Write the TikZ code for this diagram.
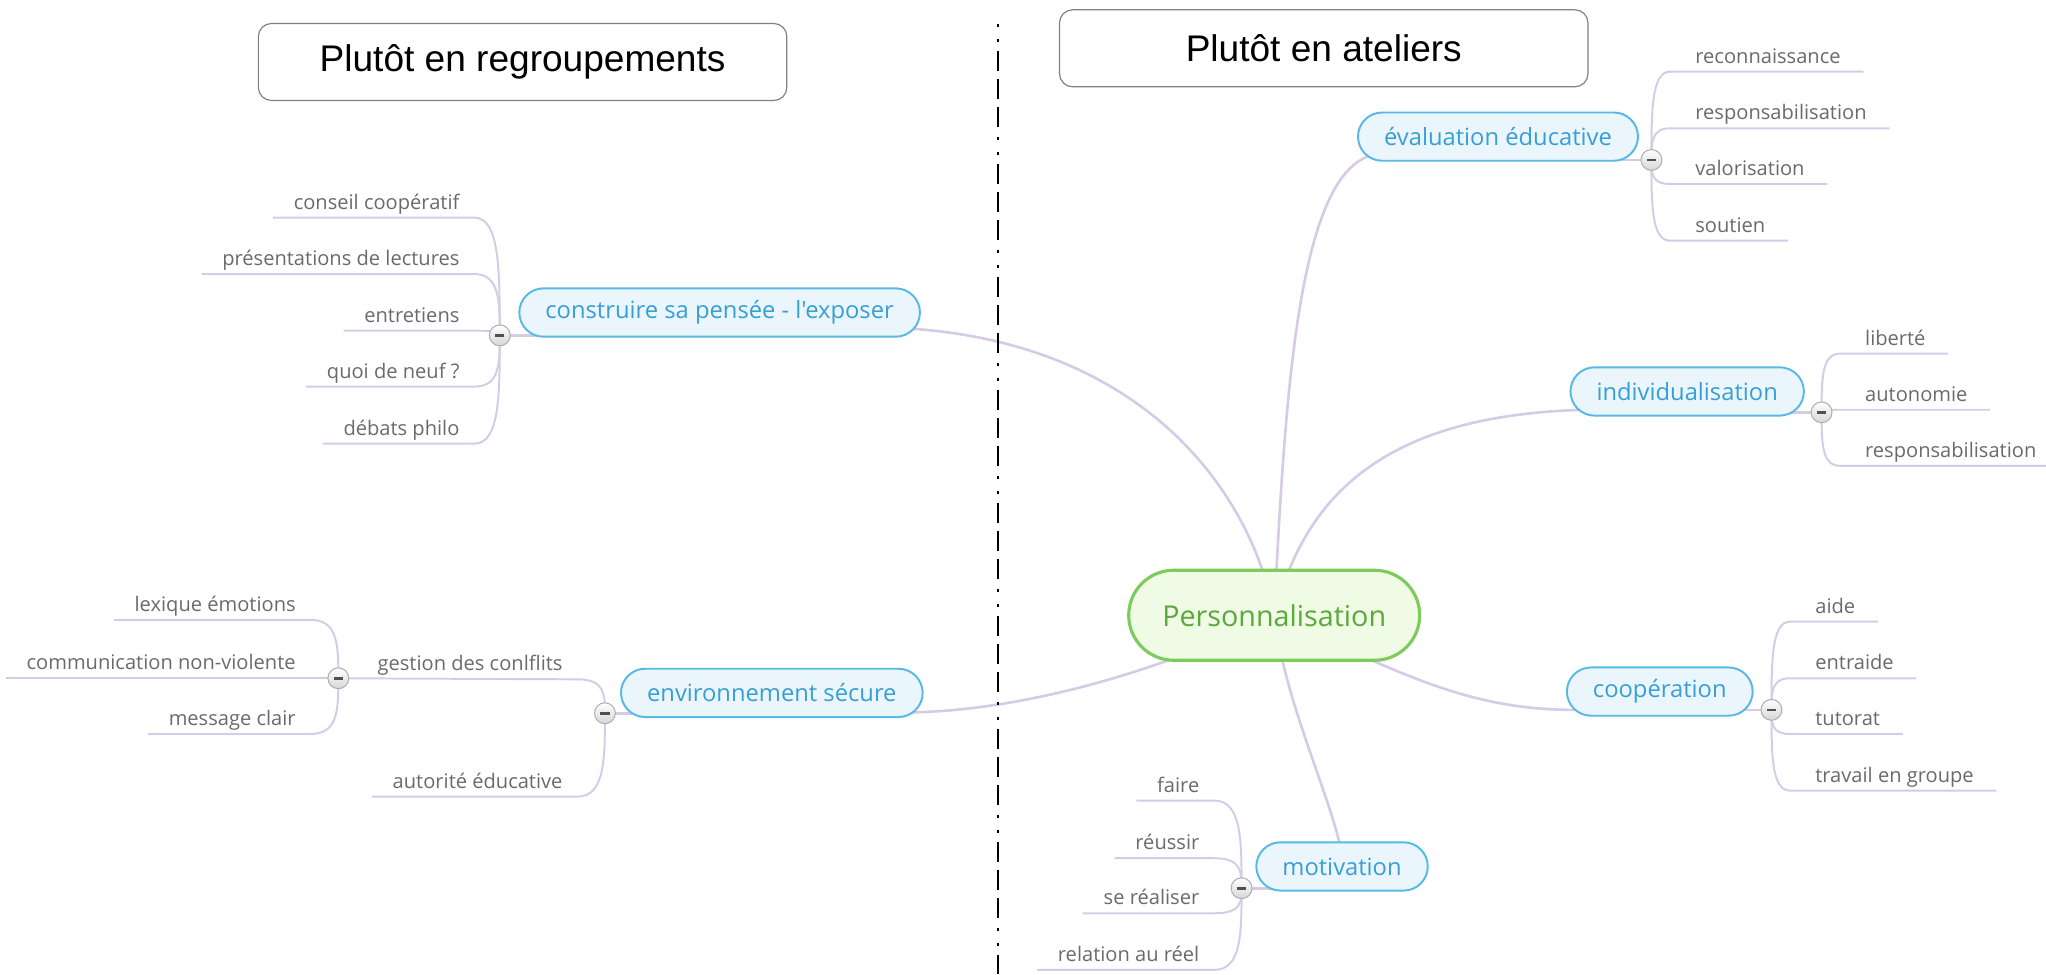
\documentclass[tikz,border=0pt]{standalone}
\usepackage{fontspec}
\newfontfamily\mmfont{Open Sans}
\newfontfamily\titlefont{Liberation Sans}
\usetikzlibrary{calc,backgrounds}
\definecolor{lineC}{HTML}{D6CAE6}
\definecolor{leafT}{HTML}{6A6A6A}
\definecolor{topB}{HTML}{56B9E6}
\definecolor{topF}{HTML}{EAF6FC}
\definecolor{topT}{HTML}{389FD6}
\definecolor{cenB}{HTML}{7CCB5B}
\definecolor{cenF}{HTML}{EFFBE4}
\definecolor{cenT}{HTML}{5BA83B}
\definecolor{btnB}{HTML}{B0B0B0}
\definecolor{btnF}{HTML}{D6D6D6}
\definecolor{btnD}{HTML}{505050}
\definecolor{ttlB}{HTML}{808080}
\tikzset{
  titlebox/.style={draw=ttlB, line width=0.45pt, rounded corners=5pt, minimum width=202.5pt, minimum height=29.5pt, inner sep=0pt, font=\titlefont\fontsize{14.2}{16}\selectfont},
  topic/.style={draw=topB, fill=topF, line width=0.75pt, rounded corners=9.25pt, minimum height=18.5pt, inner xsep=10pt, inner ysep=0pt, text=topT, font=\mmfont\fontsize{9.1}{11}\selectfont},
  central/.style={draw=cenB, fill=cenF, line width=1.2pt, rounded corners=17.25pt, minimum width=111.5pt, minimum height=34.5pt, inner sep=0pt, text=cenT, font=\mmfont\fontsize{11}{13}\selectfont},
  leafbase/.style={inner xsep=0pt, inner ysep=3pt, text depth=0pt, text=leafT, font=\mmfont\fontsize{7.7}{9}\selectfont},
  lleaf/.style={leafbase, anchor=south east},
  rleaf/.style={leafbase, anchor=south west},
  button/.style={circle, minimum size=8pt, inner sep=0pt, draw=btnB, line width=0.4pt, top color=white, bottom color=btnF,
    path picture={\draw[line width=1pt, btnD] ([xshift=-1.8pt]path picture bounding box.center) -- ([xshift=1.8pt]path picture bounding box.center);}},
  mainline/.style={draw=lineC, line width=1pt},
  leafline/.style={draw=lineC, line width=0.75pt},
  fan/.style={to path={let \p1=(\tikztostart), \p2=(\tikztotarget) in .. controls (\x1,{\y1+0.55*(\y2-\y1)}) and (\x1,\y2) .. (\tikztotarget)}},
  divider/.style={draw=black, line width=0.6pt, dash pattern=on 1.15pt off 4.6pt on 1.15pt off 3.45pt on 7.66pt off 3.06pt on 7.66pt off 3.06pt on 7.66pt off 3.83pt}
}
\begin{document}
\begin{tikzpicture}[x=0.5pt,y=-0.5pt]
\useasboundingbox (0,0) rectangle (1568,746.5);
% divider
\coordinate (dtop) at (765,18.4);
\coordinate (dbot) at (765,746.5);
\draw[divider] (dtop) -- (dbot);
% titles
\node[titlebox] (T1) at (400.5,47.5) {Plutôt en regroupements};
\node[titlebox] (T2) at (1014.5,37) {Plutôt en ateliers};
% central
\node[central] (c) at (976.5,471.5) {Personnalisation};
% topics
\node[topic] (t1) at (551.5,239.5) {construire sa pensée - l'exposer};
\node[topic] (t2) at (591.5,531) {environnement sécure};
\node[topic] (t3) at (1148,104.7) {évaluation éducative};
\node[topic] (t4) at (1293,300) {individualisation};
\node[topic] (t5) at (1272,530) {coopération};
\node[topic] (t6) at (1028.5,664) {motivation};
% buttons
\node[button] (b1) at (383,257) {};
\node[button] (b2) at (463.6,546.6) {};
\node[button] (b2a) at (259.3,519.8) {};
\node[button] (b3) at (1265.6,122.6) {};
\node[button] (b4) at (1396,316) {};
\node[button] (b5) at (1357.6,544) {};
\node[button] (b6) at (951.5,680.7) {};
% leaves: construire
\node[lleaf] (a1) at (352.5,166.8) {conseil coopératif};
\node[lleaf] (a2) at (352.5,210) {présentations de lectures};
\node[lleaf] (a3) at (352.5,253.4) {entretiens};
\node[lleaf] (a4) at (352.5,296.3) {quoi de neuf ?};
\node[lleaf] (a5) at (352.5,340) {débats philo};
% leaves: environnement
\node[lleaf] (g1) at (431.5,520.6) {gestion des conlflits};
\node[lleaf] (g2) at (431.5,610.5) {autorité éducative};
\node[lleaf] (s1) at (227,475) {lexique émotions};
\node[lleaf] (s2) at (227,519.8) {communication non-violente};
\node[lleaf] (s3) at (227,562.5) {message clair};
% leaves: motivation
\node[lleaf] (m1) at (919.5,613.5) {faire};
\node[lleaf] (m2) at (919.5,657.7) {réussir};
\node[lleaf] (m3) at (919.5,699.9) {se réaliser};
\node[lleaf] (m4) at (919.5,743.3) {relation au réel};
% leaves: evaluation
\node[rleaf] (e1) at (1298.9,54.9) {reconnaissance};
\node[rleaf] (e2) at (1298.9,98.3) {responsabilisation};
\node[rleaf] (e3) at (1298.9,141) {valorisation};
\node[rleaf] (e4) at (1298.9,184.4) {soutien};
% leaves: individualisation
\node[rleaf] (i1) at (1429,271) {liberté};
\node[rleaf] (i2) at (1429,314) {autonomie};
\node[rleaf] (i3) at (1429,357) {responsabilisation};
% leaves: cooperation
\node[rleaf] (k1) at (1390.8,476.4) {aide};
\node[rleaf] (k2) at (1390.8,519.8) {entraide};
\node[rleaf] (k3) at (1390.8,562.5) {tutorat};
\node[rleaf] (k4) at (1390.8,605.9) {travail en groupe};
\begin{pgfonlayer}{background}
% central connectors
\draw[mainline] (c.center) .. controls (960,380) and (880,265) .. (700,252);
\draw[mainline] (c.center) .. controls (900,510) and (790,545) .. (695,546);
\draw[mainline] (c.center) .. controls (985,300) and (995,125) .. (1056,118);
\draw[mainline] (c.center) .. controls (1000,380) and (1060,318) .. (1215,314);
\draw[mainline] (c.center) .. controls (1080,520) and (1130,545) .. (1212,544);
\draw[mainline] (c.center) .. controls (985,540) and (1020,610) .. (1028.5,655);
% topic to button
\draw[mainline] (b1.center) -- (b1.center -| t1.center);
\draw[mainline] (b2.center) -- (b2.center -| t2.center);
\draw[mainline] (b3.center) -- (b3.center -| t3.center);
\draw[mainline] (b4.center) -- (b4.center -| t4.center);
\draw[mainline] (b5.center) -- (b5.center -| t5.center);
\draw[mainline] (b6.center) -- (b6.center -| t6.center);
% left leaves
\foreach \l in {a1,a2,a3,a4,a5}
  \draw[leafline] (b1.center) to[fan] ([xshift=5.5pt]\l.south east) -- ([xshift=-7.75pt]\l.south west);
\draw[leafline] (b2.center) to[fan] ([xshift=5.5pt]g1.south east) -- (b2a.center);
\draw[leafline] (b2.center) to[fan] ([xshift=5.5pt]g2.south east) -- ([xshift=-7.75pt]g2.south west);
\foreach \l in {s1,s2,s3}
  \draw[leafline] (b2a.center) to[fan] ([xshift=5.5pt]\l.south east) -- ([xshift=-7.75pt]\l.south west);
\foreach \l in {m1,m2,m3,m4}
  \draw[leafline] (b6.center) to[fan] ([xshift=5.5pt]\l.south east) -- ([xshift=-7.75pt]\l.south west);
% right leaves
\foreach \l in {e1,e2,e3,e4}
  \draw[leafline] (b3.center) to[fan] ([xshift=-9.5pt]\l.south west) -- ([xshift=8.5pt]\l.south east);
\foreach \l in {i1,i2,i3}
  \draw[leafline] (b4.center) to[fan] ([xshift=-9.5pt]\l.south west) -- ([xshift=8.5pt]\l.south east);
\foreach \l in {k1,k2,k3,k4}
  \draw[leafline] (b5.center) to[fan] ([xshift=-9.5pt]\l.south west) -- ([xshift=8.5pt]\l.south east);
\end{pgfonlayer}
\end{tikzpicture}
\end{document}
